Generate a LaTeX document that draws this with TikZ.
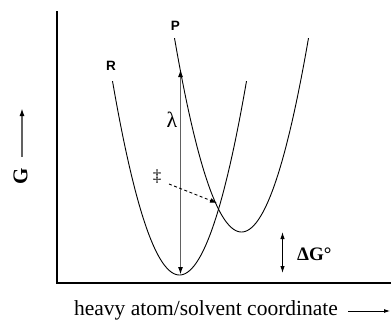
\documentclass[tikz,border=0pt]{standalone}
\usepackage{fontspec}
\setmainfont{Liberation Serif}
\newfontfamily\labelsans{Liberation Sans}
\usetikzlibrary{arrows.meta}
\begin{document}
\begin{tikzpicture}[x=1pt,y=-1pt,
  curve/.style={line width=0.9pt},
  axisline/.style={line width=1.1pt},
  grayarrow/.style={draw=black!62, line width=1.9pt},
  curvelabel/.style={font=\labelsans\bfseries\fontsize{13.5}{13.5}\selectfont, inner sep=0pt},
  serif/.style={inner sep=0pt}]
\useasboundingbox (0,0) rectangle (391,324);
% axes
\coordinate (ytop) at (57,11);
\coordinate (origin) at (57,283);
\coordinate (xend) at (391,283);
\draw[axisline] (ytop) -- (origin) -- (xend);
% G axis arrow
\coordinate (Gbot) at (22,157);
\coordinate (Gtop) at (22,108);
\draw[grayarrow, -{Latex[length=8pt,width=5pt,color=black]}] (Gbot) -- (Gtop);
\node[serif, rotate=90, font=\rmfamily\bfseries\fontsize{21}{21}\selectfont] (G) at (20.5,176) {G};
% parabolas
\draw[curve] plot[domain=-67:67, samples=80, smooth] ({179.5+\x},{275-0.0432*\x*\x});
\draw[curve] plot[domain=-67:67, samples=80, smooth] ({241.5+\x},{232-0.0432*\x*\x});
\node[curvelabel] (R) at (111,65.5) {R};
\node[curvelabel] (P) at (175.5,26) {P};
% lambda arrow
\coordinate (Rmin) at (180.5,275);
\coordinate (lamtop) at (180.5,69);
\draw[grayarrow, {Latex[length=8pt,width=5pt,color=black]}-{Latex[length=8pt,width=5pt,color=black]}] (Rmin) -- (lamtop);
\node[serif, font=\rmfamily\fontsize{22}{22}\selectfont] (lam) at (172,120) {λ};
% transition state
\node[serif, font=\rmfamily\fontsize{17}{17}\selectfont] (ts) at (157,177) {‡};
\coordinate (tsstart) at (169,184);
\coordinate (cross) at (217,203);
\draw[line width=0.9pt, dash pattern=on 3pt off 2.5pt, -{Latex[length=7pt,width=5pt]}] (tsstart) -- (cross);
% Delta G
\coordinate (dGtop) at (282.5,232);
\coordinate (dGbot) at (282.5,273);
\draw[line width=1pt, {Latex[length=7pt,width=4.5pt]}-{Latex[length=7pt,width=4.5pt]}] (dGtop) -- (dGbot);
\node[serif, anchor=west, font=\rmfamily\bfseries\fontsize{19}{19}\selectfont] (dG) at (297,254) {ΔG°};
% x axis label
\node[serif, anchor=base, font=\rmfamily\fontsize{21.5}{21.5}\selectfont] (xlab) at (206,315) {heavy atom/solvent coordinate};
\coordinate (xa1) at (348,311);
\coordinate (xa2) at (390,311);
\draw[line width=0.8pt, -{Latex[length=6pt,width=4pt]}] (xa1) -- (xa2);
\end{tikzpicture}
\end{document}
